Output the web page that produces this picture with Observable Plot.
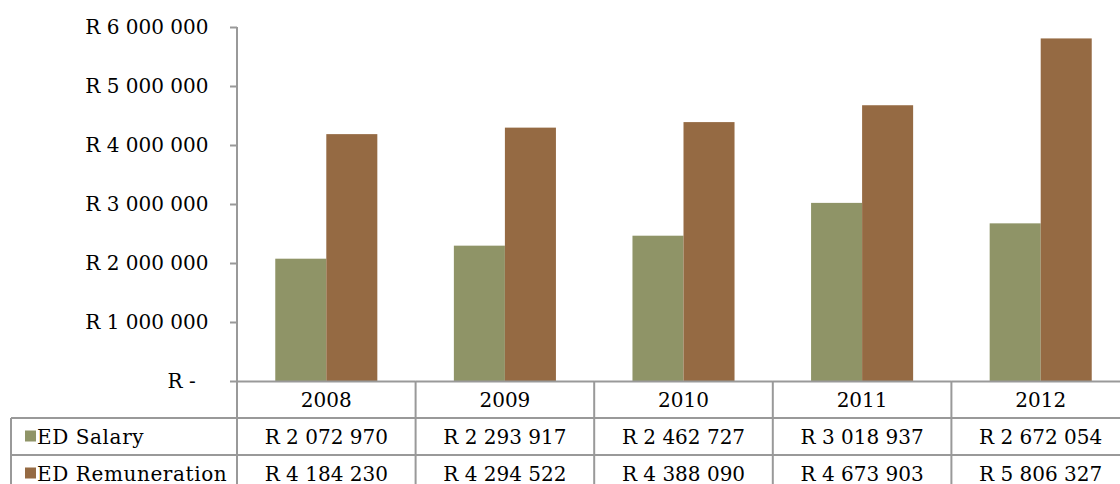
<!DOCTYPE html>
<html>
<head>
<meta charset="utf-8">
<script src="https://cdn.jsdelivr.net/npm/d3@7"></script>
<script src="https://cdn.jsdelivr.net/npm/@observablehq/plot@0.6"></script>
<style>
  html, body { margin: 0; padding: 0; background: white; overflow: hidden; }
  #wrap { position: relative; width: 1120px; height: 484px; overflow: hidden; font-family: "DejaVu Serif", serif; }
  #wrap svg { max-width: none !important; }
  #wrap svg.overlay { position: absolute; left: 0; top: 0; }
</style>
</head>
<body>
<div id="wrap"></div>
<script>
// ---- data ----
const years = ["2008", "2009", "2010", "2011", "2012"];
const seriesNames = ["ED Salary", "ED Remuneration"];
const salary = [2072970, 2293917, 2462727, 3018937, 2672054];
const remuneration = [4184230, 4294522, 4388090, 4673903, 5806327];
const yTicks = [0, 1000000, 2000000, 3000000, 4000000, 5000000, 6000000];
const seriesColors = ["#8F9467", "#956A43"];

const data = years.flatMap((yr, i) => [
  {year: yr, series: seriesNames[0], value: salary[i]},
  {year: yr, series: seriesNames[1], value: remuneration[i]}
]);

const groupFmt = d3.format(",");
const rand = v => v === 0 ? "R -\u00a0\u00a0" : "R " + groupFmt(v).replace(/,/g, " ");

const W = 1130, H = 484, mL = 237, mR = 0, mT = 27, mB = 103;
const gray = "#999999";

const chart = Plot.plot({
  width: W, height: H,
  marginTop: mT, marginBottom: mB, marginLeft: mL, marginRight: mR,
  style: {fontFamily: "DejaVu Serif", fontSize: "20px", color: "black", background: "white", maxWidth: "none"},
  fx: {domain: years, padding: 0, round: false, axis: null, label: null},
  x: {domain: seriesNames, paddingInner: 0, paddingOuter: 0.75, round: false, axis: null},
  y: {domain: [0, 6000000], axis: null},
  color: {domain: seriesNames, range: seriesColors},
  marks: [
    Plot.barY(data, {fx: "year", x: "series", y: "value", fill: "series"}),
    Plot.ruleY([0], {stroke: gray, strokeWidth: 2}),
    Plot.axisY(yTicks, {tickSize: 7, tickPadding: 22, tickFormat: rand, label: null, stroke: gray, strokeWidth: 2, fill: "black", fontSize: 20})
  ]
});

const wrap = document.getElementById("wrap");
wrap.appendChild(chart);

// ---- data table below the chart ----
const band = d3.scaleBand(years, [mL, W - mR]).padding(0);
const step = band.step();
const rowTop = [381, 418, 455, 492];
const tableLeft = 11;

const svg = d3.select(wrap).append("svg")
  .attr("class", "overlay")
  .attr("width", 1120).attr("height", 484)
  .style("font-family", "DejaVu Serif").style("font-size", "20px");

// lines
const lines = svg.append("g").attr("stroke", gray).attr("stroke-width", 2);
lines.append("line").attr("x1", mL).attr("x2", mL).attr("y1", mT).attr("y2", 484);
years.forEach((yr, i) => {
  if (i > 0) lines.append("line").attr("x1", band(yr)).attr("x2", band(yr)).attr("y1", rowTop[0]).attr("y2", 484);
});
lines.append("line").attr("x1", tableLeft).attr("x2", tableLeft).attr("y1", rowTop[1]).attr("y2", 484);
[rowTop[1], rowTop[2]].forEach(y => {
  lines.append("line").attr("x1", tableLeft).attr("x2", 1120).attr("y1", y).attr("y2", y);
});

// header years and values
const mid = (r) => (rowTop[r] + rowTop[r + 1]) / 2;
years.forEach((yr, i) => {
  svg.append("text").attr("x", band(yr) + step / 2).attr("y", mid(0)).attr("dy", "0.35em")
    .attr("text-anchor", "middle").text(yr);
  svg.append("text").attr("x", band(yr) + step / 2).attr("y", mid(1)).attr("dy", "0.35em")
    .attr("text-anchor", "middle").text(rand(salary[i]));
  svg.append("text").attr("x", band(yr) + step / 2).attr("y", mid(2)).attr("dy", "0.35em")
    .attr("text-anchor", "middle").text(rand(remuneration[i]));
});

// legend keys in row headers
seriesNames.forEach((name, j) => {
  const cy = mid(j + 1);
  svg.append("rect").attr("x", 25).attr("y", cy - 6).attr("width", 11).attr("height", 11)
    .attr("fill", seriesColors[j]);
  svg.append("text").attr("x", 37).attr("y", cy).attr("dy", "0.35em")
    .attr("letter-spacing", "0.6px").text(name);
});
</script>
</body>
</html>
